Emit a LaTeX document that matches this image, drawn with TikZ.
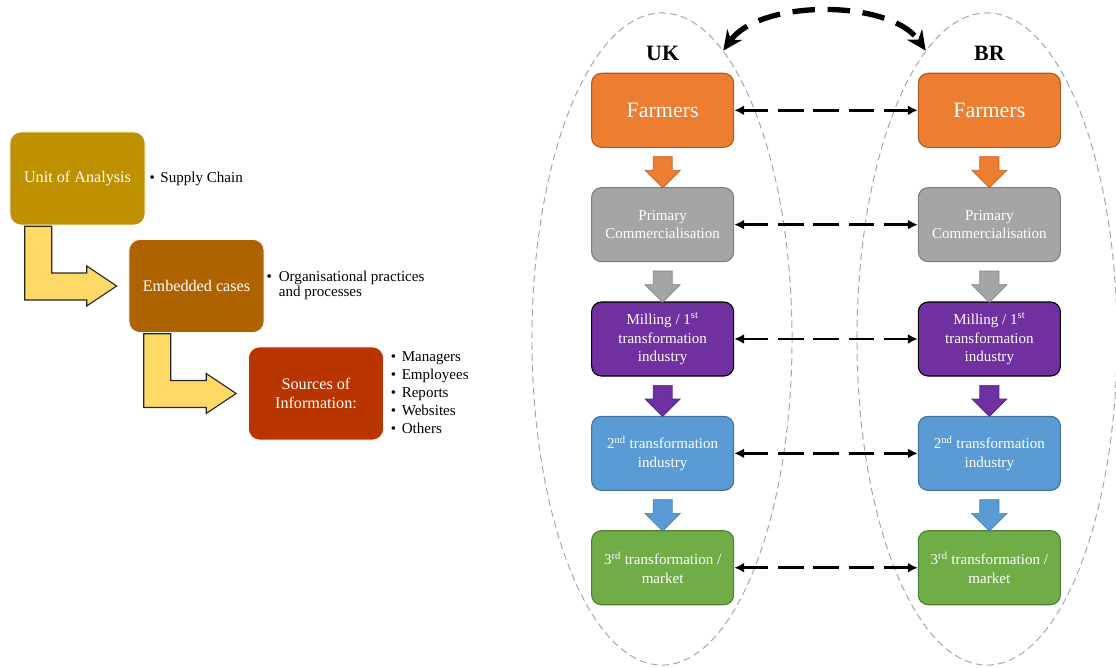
\documentclass[tikz,border=0pt]{standalone}
\usepackage{fontspec}
\setmainfont{Liberation Serif}
\usetikzlibrary{matrix,positioning,calc,arrows.meta,shapes.geometric,shapes.arrows}

\definecolor{unitgold}{HTML}{BF9000}
\definecolor{embedbrown}{HTML}{AF6200}
\definecolor{sourcered}{HTML}{B83500}
\definecolor{bendyellow}{HTML}{FFD966}
\definecolor{farmorange}{HTML}{ED7D31}
\definecolor{farmedge}{HTML}{AE5A21}
\definecolor{primgray}{HTML}{A5A5A5}
\definecolor{primedge}{HTML}{7F7F7F}
\definecolor{millpurple}{HTML}{7030A0}
\definecolor{secblue}{HTML}{5B9BD5}
\definecolor{secedge}{HTML}{41719C}
\definecolor{thirdgreen}{HTML}{70AD47}
\definecolor{thirdedge}{HTML}{507E32}
\definecolor{clustergray}{HTML}{A6A6A6}

\begin{document}
\begin{tikzpicture}[
x=0.025cm, y=-0.025cm,
phase/.style={
  rectangle,
  rounded corners=8pt,
  draw=white,
  minimum width=3.375cm,
  minimum height=2.325cm,
  text=white,
  align=center,
  font=\fontsize{11.5}{13.5}\selectfont
  },
note/.style={
  inner sep=0pt,
  anchor=west,
  font=\fontsize{10.7}{12.8}\selectfont
  },
bentarrow/.style={
  fill=bendyellow,
  draw=black!85,
  line width=0.8pt
  },
cluster/.style={
  ellipse,
  draw=clustergray,
  line width=0.7pt,
  dash pattern=on 5pt off 3pt,
  minimum width=6.5cm,
  minimum height=16.3cm,
  inner sep=0pt
  },
country/.style={
  inner sep=0pt,
  font=\fontsize{15.6}{18}\selectfont\bfseries
  },
chain/.style={
  matrix of nodes,
  nodes={
    rectangle,
    rounded corners=7pt,
    line width=0.8pt,
    minimum width=3.55cm,
    minimum height=1.85cm,
    text width=3.4cm,
    inner sep=0pt,
    align=flush center,
    text=white,
    font=\fontsize{10.7}{13.3}\selectfont
    },
  row 1/.style={nodes={fill=farmorange,draw=farmedge,font=\fontsize{15.6}{18}\selectfont}},
  row 2/.style={nodes={fill=primgray,draw=primedge}},
  row 3/.style={nodes={fill=millpurple,draw=black}},
  row 4/.style={nodes={fill=secblue,draw=secedge}},
  row 5/.style={nodes={fill=thirdgreen,draw=thirdedge}},
  column sep=4.5875cm,
  row sep=0.98cm
  },
downarrow/.style={
  single arrow,
  rotate=-90,
  inner xsep=0pt,
  inner ysep=0.23cm,
  minimum height=0.78cm,
  single arrow head extend=0.2cm
  },
linkarrow/.style={
  line width=2pt,
  dash pattern=on 18pt off 7pt,
  {Latex[length=7pt,width=7pt]}-{Latex[length=7pt,width=7pt]}
  },
swaparrow/.style={
  line width=3.8pt,
  dash pattern=on 16pt off 9pt,
  {Stealth[length=14pt,width=13pt]}-{Stealth[length=14pt,width=13pt]}
  }
]
\useasboundingbox (0,0) rectangle (1116,667);

% case study design
\node[phase,fill=unitgold] (unit) at (77.5,178.5) {Unit of Analysis};
\node[phase,fill=embedbrown] (embed) at (196.5,286) {Embedded cases};
\node[phase,fill=sourcered] (source) at (316,393.5) {Sources of\\Information:};

\node[note,right=0.1cm of unit] (unitnote) {\textbullet\hspace{4pt}Supply Chain};
\node[note,right=0.05cm of embed] (embednote) {\fontsize{10.7}{10.7}\selectfont
  \begin{tabular}{@{}l@{\hspace{5pt}}l@{}}\textbullet & Organisational practices\\ & and processes\end{tabular}};
\node[note,right=0.17cm of source] (sourcenote) {\begin{tabular}{@{}l@{\hspace{4pt}}l@{}}
  \textbullet & Managers\\ \textbullet & Employees\\ \textbullet & Reports\\
  \textbullet & Websites\\ \textbullet & Others\end{tabular}};

\foreach \from/\to in {unit/embed,embed/source}
{\path ($(\from.south west)+(15,1)$) coordinate (s) (s |- \to.west) coordinate (k);
 \draw[bentarrow] (s) -- ($(k)+(0,14)$) -- ($(\to.west)+(-42,14)$) -- ($(\to.west)+(-42,20)$)
   -- ($(\to.west)+(-12,0)$) -- ($(\to.west)+(-42,-20)$) -- ($(\to.west)+(-42,-13)$)
   -- ($(k)+(27,-13)$) -- ($(s)+(27,0)$) -- cycle;
}

% supply chains
\node[cluster] (ukell) at (662,339) {};
\node[cluster] (brell) at (987,339) {};

\matrix[chain] (mat) at (826,339)
{
Farmers & Farmers \\
{Primary\\Commercialisation} & {Primary\\Commercialisation} \\
{Milling / 1\textsuperscript{st}\\transformation\\industry} & {Milling / 1\textsuperscript{st}\\transformation\\industry} \\
{2\textsuperscript{nd} transformation\\industry} & {2\textsuperscript{nd} transformation\\industry} \\
{3\textsuperscript{rd} transformation /\\market} & {3\textsuperscript{rd} transformation /\\market} \\
};

\node[country,above=0.3cm of mat-1-1] (uk) {UK};
\node[country,above=0.3cm of mat-1-2] (br) {BR};

\foreach \r/\rn/\col in {1/2/farmorange,2/3/primgray,3/4/millpurple,4/5/secblue}
{\foreach \c in {1,2}
  \node[downarrow,fill=\col,draw=\col!80!black,line width=0.5pt] (down-\r-\c) at ($(mat-\r-\c.south)!0.5!(mat-\rn-\c.north)$) {};
}
\foreach \r in {1,...,5}
  \draw[linkarrow] (mat-\r-1) -- (mat-\r-2);

\draw[swaparrow] (ukell.78) .. controls (760,-1) and (890,-1) .. (brell.102);
\end{tikzpicture}
\end{document}
